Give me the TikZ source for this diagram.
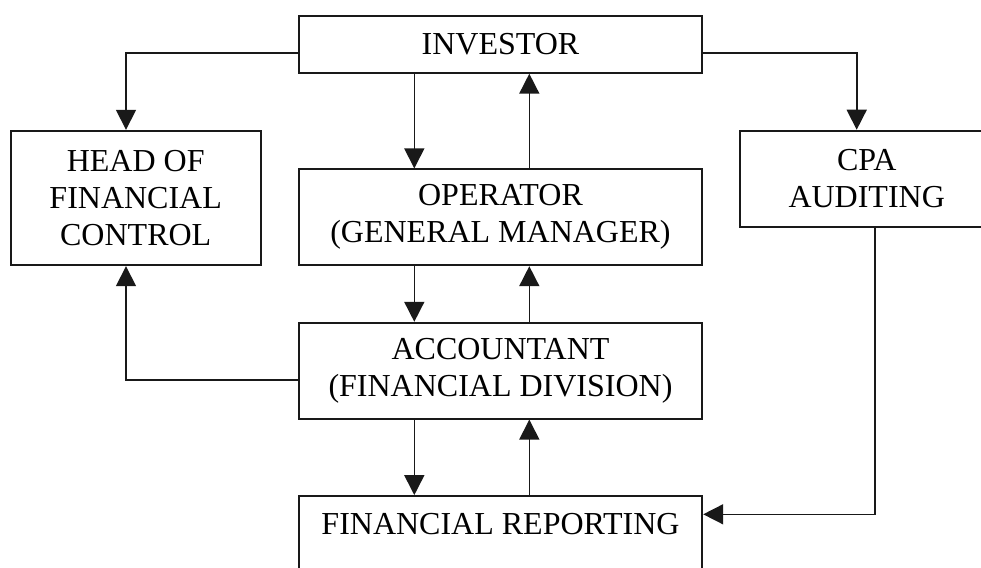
\documentclass[tikz,border=0pt]{standalone}
\usepackage{fontspec}
\setmainfont{Liberation Serif}
\usetikzlibrary{arrows.meta}
\begin{document}
\begin{tikzpicture}[x=1pt,y=-1pt,
  box/.style={draw=black!90, line width=1.8pt, rectangle, inner sep=0pt, align=center,
    font=\fontsize{32}{37}\selectfont},
  txt/.style={inner sep=0pt, font=\fontsize{32}{37}\selectfont},
  arr/.style={draw=black!90, line width=1.6pt, -{Triangle[length=20pt,width=20pt]}}]
\useasboundingbox (0,0) rectangle (981,567);
\clip (0,0) rectangle (981,567);
\node[box, minimum width=403.6pt, minimum height=57pt] (inv) at (500.5,44.3) {INVESTOR};
\node[box, minimum width=250pt, minimum height=134.6pt] (head) at (135.7,198) {HEAD OF\\FINANCIAL\\CONTROL};
\node[box, minimum width=403.6pt, minimum height=96pt] (op) at (500.5,217.3) {OPERATOR\\(GENERAL MANAGER)};
\node[box, minimum width=252.7pt, minimum height=96.3pt] (cpa) at (866.7,178.8) {CPA\\AUDITING};
\node[box, minimum width=403.6pt, minimum height=96pt] (acc) at (500.5,370.7) {ACCOUNTANT\\(FINANCIAL DIVISION)};
\node[box, minimum width=403.6pt, minimum height=96pt] (fr) at (500.5,544) {};
\node[txt, anchor=base] (frt) at (500.5,534) {FINANCIAL REPORTING};
\coordinate (cl) at (414.3,0);
\coordinate (cr) at (529.3,0);
\coordinate (ch) at (126,0);
\coordinate (cc) at (856.7,0);
\coordinate (cd) at (875,0);
\coordinate (ya) at (0,380);
\coordinate (yf) at (0,514.3);
\draw[arr] (inv.south -| cl) -- (op.north -| cl);
\draw[arr] (op.north -| cr) -- (inv.south -| cr);
\draw[arr] (op.south -| cl) -- (acc.north -| cl);
\draw[arr] (acc.north -| cr) -- (op.south -| cr);
\draw[arr] (acc.south -| cl) -- (fr.north -| cl);
\draw[arr] (fr.north -| cr) -- (acc.south -| cr);
\draw[arr] ([yshift=-9pt]inv.west) -| (head.north -| ch);
\draw[arr] ([yshift=-9pt]inv.east) -| (cpa.north -| cc);
\draw[arr] (acc.west |- ya) -| (head.south -| ch);
\draw[arr] (cpa.south -| cd) |- (fr.east |- yf);
\end{tikzpicture}
\end{document}
